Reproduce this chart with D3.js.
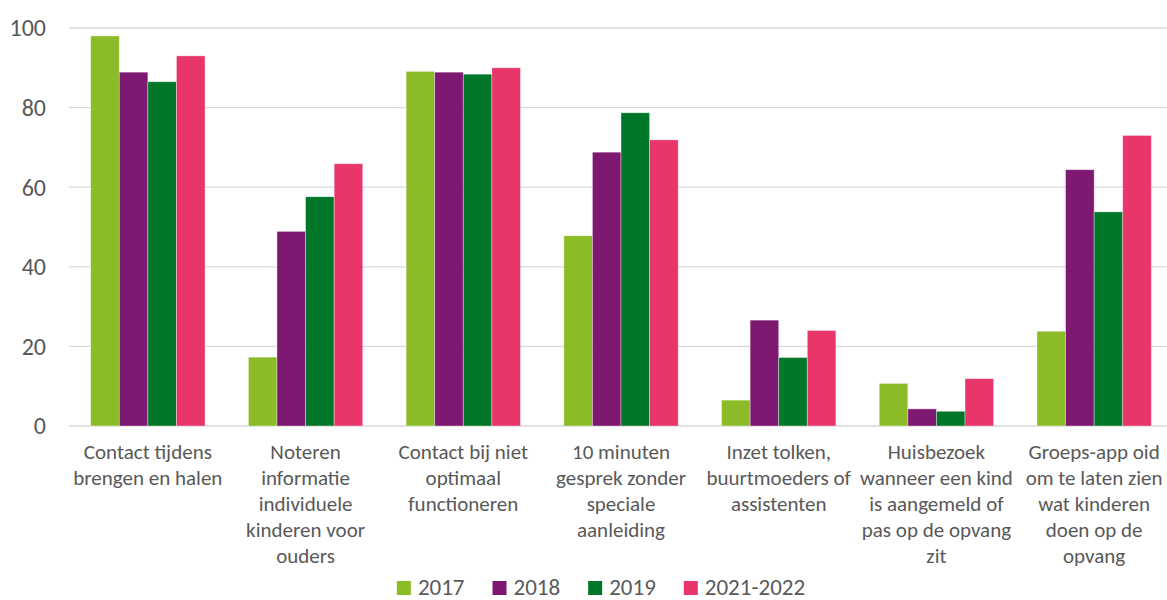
<!DOCTYPE html>
<html>
<head>
<meta charset="utf-8">
<script src="https://d3js.org/d3.v7.min.js"></script>
<style>
  body { margin: 0; background: #fff; }
  text { font-family: Carlito, Lato, "Open Sans", sans-serif; fill: #595959; }
</style>
</head>
<body>
<svg id="chart" width="1167" height="600"></svg>
<script>
// categories, lines split with |
const categories = [
  "Contact tijdens|brengen en halen",
  "Noteren|informatie|individuele|kinderen voor|ouders",
  "Contact bij niet|optimaal|functioneren",
  "10 minuten|gesprek zonder|speciale|aanleiding",
  "Inzet tolken,|buurtmoeders of|assistenten",
  "Huisbezoek|wanneer een kind|is aangemeld of|pas op de opvang|zit",
  "Groeps-app oid|om te laten zien|wat kinderen|doen op de|opvang"
];
const series = ["2017", "2018", "2019", "2021-2022"];
const colors = ["#8BBB26", "#7E1971", "#007728", "#E8356A"];
const v2017 = [98, 17.3, 89.1, 47.8, 6.5, 10.7, 23.8];
const v2018 = [88.9, 48.9, 88.9, 68.8, 26.6, 4.3, 64.4];
const v2019 = [86.5, 57.6, 88.4, 78.7, 17.2, 3.7, 53.8];
const v2021 = [93, 65.9, 90, 71.9, 24, 11.9, 73];
const yTicks = [0, 20, 40, 60, 80, 100];

const values = [v2017, v2018, v2019, v2021];
const svg = d3.select("#chart");

const x0 = d3.scaleBand().domain(categories).range([69, 1173])
  .paddingInner(0.275).paddingOuter(0.1375);
const x1 = d3.scaleBand().domain(series).range([0, x0.bandwidth()]);
const y = d3.scaleLinear().domain([0, 100]).range([426, 28]);
const color = d3.scaleOrdinal().domain(series).range(colors);

// gridlines
svg.append("g").selectAll("line").data(yTicks).join("line")
  .attr("x1", 69).attr("x2", 1173)
  .attr("y1", d => y(d)).attr("y2", d => y(d))
  .attr("stroke", "#d9d9d9").attr("stroke-width", 1.3);

// y labels
svg.append("g").selectAll("text").data(yTicks).join("text")
  .attr("x", 46).attr("y", d => y(d))
  .attr("dy", "0.35em")
  .attr("text-anchor", "end")
  .style("font-size", "24px")
  .text(d => d);

// bars
const groups = svg.append("g").selectAll("g").data(categories).join("g")
  .attr("transform", d => `translate(${x0(d)},0)`);

groups.selectAll("rect")
  .data((c, i) => series.map((s, j) => ({ s: s, v: values[j][i] })))
  .join("rect")
  .attr("x", d => x1(d.s))
  .attr("width", x1.bandwidth())
  .attr("y", d => y(d.v))
  .attr("height", d => y(0) - y(d.v))
  .attr("fill", d => color(d.s))
  .attr("stroke", "#ffffff")
  .attr("stroke-opacity", 0.45)
  .attr("stroke-width", 0.8);

// category labels
svg.append("g").selectAll("text").data(categories).join("text")
  .attr("text-anchor", "middle")
  .style("font-size", "21px")
  .each(function(d) {
    const t = d3.select(this);
    d.split("|").forEach((line, k) => {
      t.append("tspan")
        .attr("x", x0(d) + x0.bandwidth() / 2)
        .attr("y", 459 + k * 26)
        .text(line);
    });
  });

// legend
const legend = svg.append("g");
let lx = 0;
series.forEach((s, i) => {
  const item = legend.append("g").attr("transform", `translate(${lx},0)`);
  item.append("rect").attr("x", 0).attr("y", -7).attr("width", 14).attr("height", 14)
    .attr("fill", colors[i]);
  const t = item.append("text").attr("x", 21).attr("y", 7)
    .style("font-size", "23px").text(s);
  lx += 21 + t.node().getComputedTextLength() + 28;
});
const lw = lx - 28;
legend.attr("transform", `translate(${601 - lw / 2},588)`);
</script>
</body>
</html>
